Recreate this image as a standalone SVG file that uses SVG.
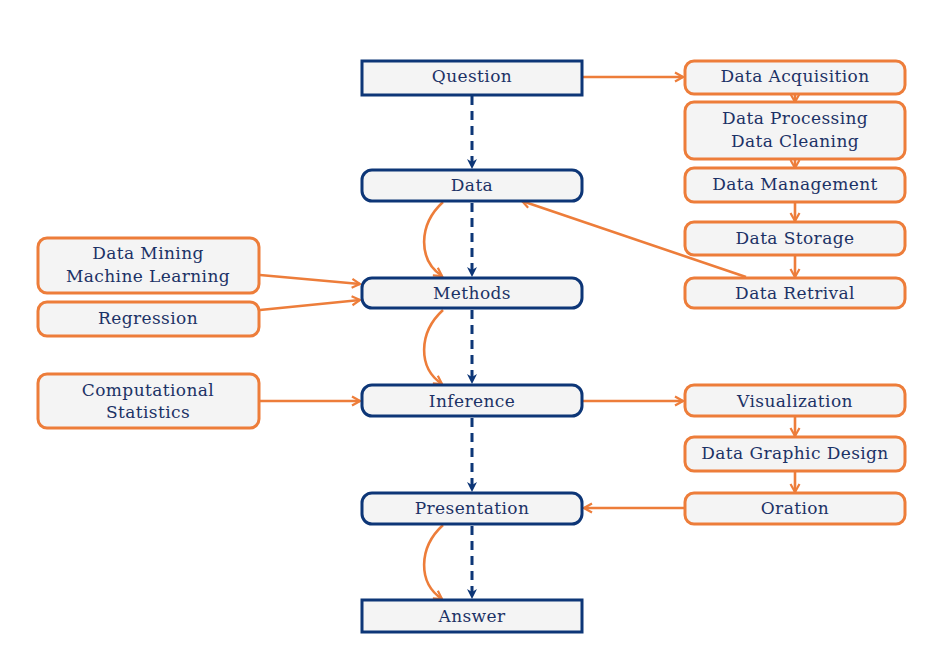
<svg xmlns="http://www.w3.org/2000/svg" width="950" height="650" viewBox="0 0 950 650">
  <style>
    .bg { fill: #ffffff; }
    .main rect { fill: #f4f4f4; stroke: #0d3677; stroke-width: 3; }
    .side rect { fill: #f4f4f4; stroke: #ed7d3a; stroke-width: 3; }
    text { font-family: 'DejaVu Serif', 'Liberation Serif', serif; font-size: 17px; letter-spacing: 0.4px; fill: #1c3266; text-anchor: middle; }
    .dash { stroke: #0d3677; stroke-width: 3; stroke-dasharray: 9 6; fill: none; marker-end: url(#navyHead); }
    .flow { stroke: #ed7d3a; stroke-width: 2.6; fill: none; marker-end: url(#orangeHead); }
  </style>
  <defs>
    <marker id="navyHead" viewBox="0 0 12 12" refX="10" refY="6" markerWidth="12" markerHeight="12" markerUnits="userSpaceOnUse" orient="auto">
      <path d="M1,1 L11,6 L1,11 L4,6 Z" fill="#0d3677"/>
    </marker>
    <marker id="orangeHead" viewBox="0 0 12 12" refX="10" refY="6" markerWidth="12" markerHeight="12" markerUnits="userSpaceOnUse" orient="auto">
      <path d="M2,1.5 L10,6 L2,10.5" fill="none" stroke="#ed7d3a" stroke-width="2.2" stroke-linejoin="miter"/>
    </marker>
  </defs>
  <rect class="bg" x="0" y="0" width="950" height="650"/>

  <!-- connectors -->
  <g id="connectors">
    <!-- main chain (dashed) -->
    <path class="dash" d="M472,96 V168"/>
    <path class="dash" d="M472,203 V276"/>
    <path class="dash" d="M472,310 V383"/>
    <path class="dash" d="M472,418 V491"/>
    <path class="dash" d="M472,526 V598"/>
    <!-- curved shortcuts -->
    <path class="flow" d="M443,202 C418,225 418,260 442,276"/>
    <path class="flow" d="M443,310 C418,333 418,368 442,384"/>
    <path class="flow" d="M443,525 C418,548 418,583 442,599"/>
    <!-- data pipeline -->
    <path class="flow" d="M583,77 H683"/>
    <path class="flow" d="M795,95 V102"/>
    <path class="flow" d="M795,160 V168"/>
    <path class="flow" d="M795,203 V221"/>
    <path class="flow" d="M795,256 V277"/>
    <path class="flow" d="M746,277 L522,201"/>
    <!-- methods inputs -->
    <path class="flow" d="M260,275 L360,284"/>
    <path class="flow" d="M260,310 L360,300"/>
    <path class="flow" d="M260,401 H360"/>
    <!-- presentation pipeline -->
    <path class="flow" d="M583,401 H683"/>
    <path class="flow" d="M795,417 V436"/>
    <path class="flow" d="M795,472 V492"/>
    <path class="flow" d="M685,508 H584"/>
  </g>

  <!-- main column -->
  <g id="question" class="main"><rect x="362" y="61" width="220" height="34"/><text x="472" y="82">Question</text></g>
  <g id="data" class="main"><rect x="362" y="170" width="220" height="31" rx="10"/><text x="472" y="191">Data</text></g>
  <g id="methods" class="main"><rect x="362" y="278" width="220" height="30" rx="10"/><text x="472" y="299">Methods</text></g>
  <g id="inference" class="main"><rect x="362" y="385" width="220" height="31" rx="10"/><text x="472" y="407">Inference</text></g>
  <g id="presentation" class="main"><rect x="362" y="493" width="220" height="31" rx="10"/><text x="472" y="514">Presentation</text></g>
  <g id="answer" class="main"><rect x="362" y="600" width="220" height="32"/><text x="472" y="622">Answer</text></g>

  <!-- right column -->
  <g id="data-acquisition" class="side"><rect x="685" y="61" width="220" height="33" rx="9"/><text x="795" y="82">Data Acquisition</text></g>
  <g id="data-processing" class="side"><rect x="685" y="102" width="220" height="57" rx="9"/><text x="795" y="124">Data Processing</text><text x="795" y="147">Data Cleaning</text></g>
  <g id="data-management" class="side"><rect x="685" y="168" width="220" height="34" rx="9"/><text x="795" y="190">Data Management</text></g>
  <g id="data-storage" class="side"><rect x="685" y="222" width="220" height="33" rx="9"/><text x="795" y="244">Data Storage</text></g>
  <g id="data-retrival" class="side"><rect x="685" y="278" width="220" height="30" rx="9"/><text x="795" y="299">Data Retrival</text></g>
  <g id="visualization" class="side"><rect x="685" y="385" width="220" height="31" rx="9"/><text x="795" y="407">Visualization</text></g>
  <g id="data-graphic-design" class="side"><rect x="685" y="437" width="220" height="34" rx="9"/><text x="795" y="459">Data Graphic Design</text></g>
  <g id="oration" class="side"><rect x="685" y="493" width="220" height="31" rx="9"/><text x="795" y="514">Oration</text></g>

  <!-- left column -->
  <g id="data-mining" class="side"><rect x="38" y="238" width="221" height="55" rx="9"/><text x="148" y="259">Data Mining</text><text x="148" y="282">Machine Learning</text></g>
  <g id="regression" class="side"><rect x="38" y="302" width="221" height="34" rx="9"/><text x="148" y="324">Regression</text></g>
  <g id="computational-statistics" class="side"><rect x="38" y="374" width="221" height="54" rx="9"/><text x="148" y="396">Computational</text><text x="148" y="418">Statistics</text></g>
</svg>
